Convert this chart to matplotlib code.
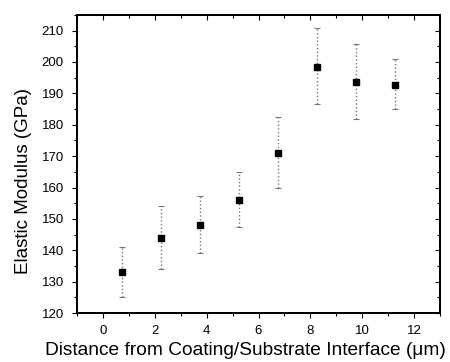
import matplotlib
matplotlib.use("Agg")
import matplotlib.pyplot as plt
from matplotlib.ticker import MultipleLocator

plt.rcParams['font.family'] = ['Liberation Sans', 'DejaVu Sans']

# distance from interface (um) and modulus (GPa)
distance = [0.75, 2.25, 3.75, 5.25, 6.75, 8.25, 9.75, 11.25]
modulus = [133, 144, 148, 156, 171, 198.5, 193.5, 192.5]
err_upper = [141, 154, 157.3, 165, 182.5, 210.8, 205.8, 200.8]
err_lower = [125, 134, 139, 147.3, 160, 186.5, 181.8, 185]

yerr = [[m - lo for m, lo in zip(modulus, err_lower)],
        [hi - m for m, hi in zip(modulus, err_upper)]]

fig = plt.figure(figsize=(4.5, 3.62), dpi=100)
ax = fig.add_axes([0.171, 0.135, 0.807, 0.824])

eb = ax.errorbar(distance, modulus, yerr=yerr, fmt='s', color='black',
                 markersize=4.5, ecolor='#777777', elinewidth=1.0,
                 capsize=2.5, capthick=0.8)
for col in eb[2]:
    col.set_linestyle(':')

ax.set_xlim(-1, 13)
ax.set_ylim(120, 215)
ax.xaxis.set_major_locator(MultipleLocator(2))
ax.xaxis.set_minor_locator(MultipleLocator(1))
ax.yaxis.set_major_locator(MultipleLocator(10))
ax.yaxis.set_minor_locator(MultipleLocator(5))

ax.tick_params(which='both', direction='out', labelsize=9.5, width=0.8)
ax.tick_params(which='major', length=3.5)
ax.tick_params(which='minor', length=2)
ax.tick_params(axis='y', which='major', pad=6)
ax.tick_params(axis='x', which='major', pad=5)

# inward ticks on top and right like the original plot
ax2 = ax.twinx()
ax2.set_ylim(ax.get_ylim())
ax2.yaxis.set_major_locator(MultipleLocator(10))
ax2.yaxis.set_minor_locator(MultipleLocator(5))
ax2.tick_params(which='both', direction='in', labelright=False, width=0.8)
ax2.tick_params(which='major', length=3.5)
ax2.tick_params(which='minor', length=2)
ax3 = ax.twiny()
ax3.set_xlim(ax.get_xlim())
ax3.xaxis.set_major_locator(MultipleLocator(2))
ax3.xaxis.set_minor_locator(MultipleLocator(1))
ax3.tick_params(which='both', direction='in', labeltop=False, width=0.8)
ax3.tick_params(which='major', length=3.5)
ax3.tick_params(which='minor', length=2)

for a in (ax, ax2, ax3):
    for sp in a.spines.values():
        sp.set_linewidth(1.2)

ax.set_xlabel('Distance from Coating/Substrate Interface (\u03bcm)', fontsize=13.8)
ax.set_ylabel('Elastic Modulus (GPa)', fontsize=13.5)
ax.xaxis.set_label_coords(0.463, -0.097)
ax.yaxis.set_label_coords(-0.124, 0.443)

fig.savefig('out.png', dpi=100)
